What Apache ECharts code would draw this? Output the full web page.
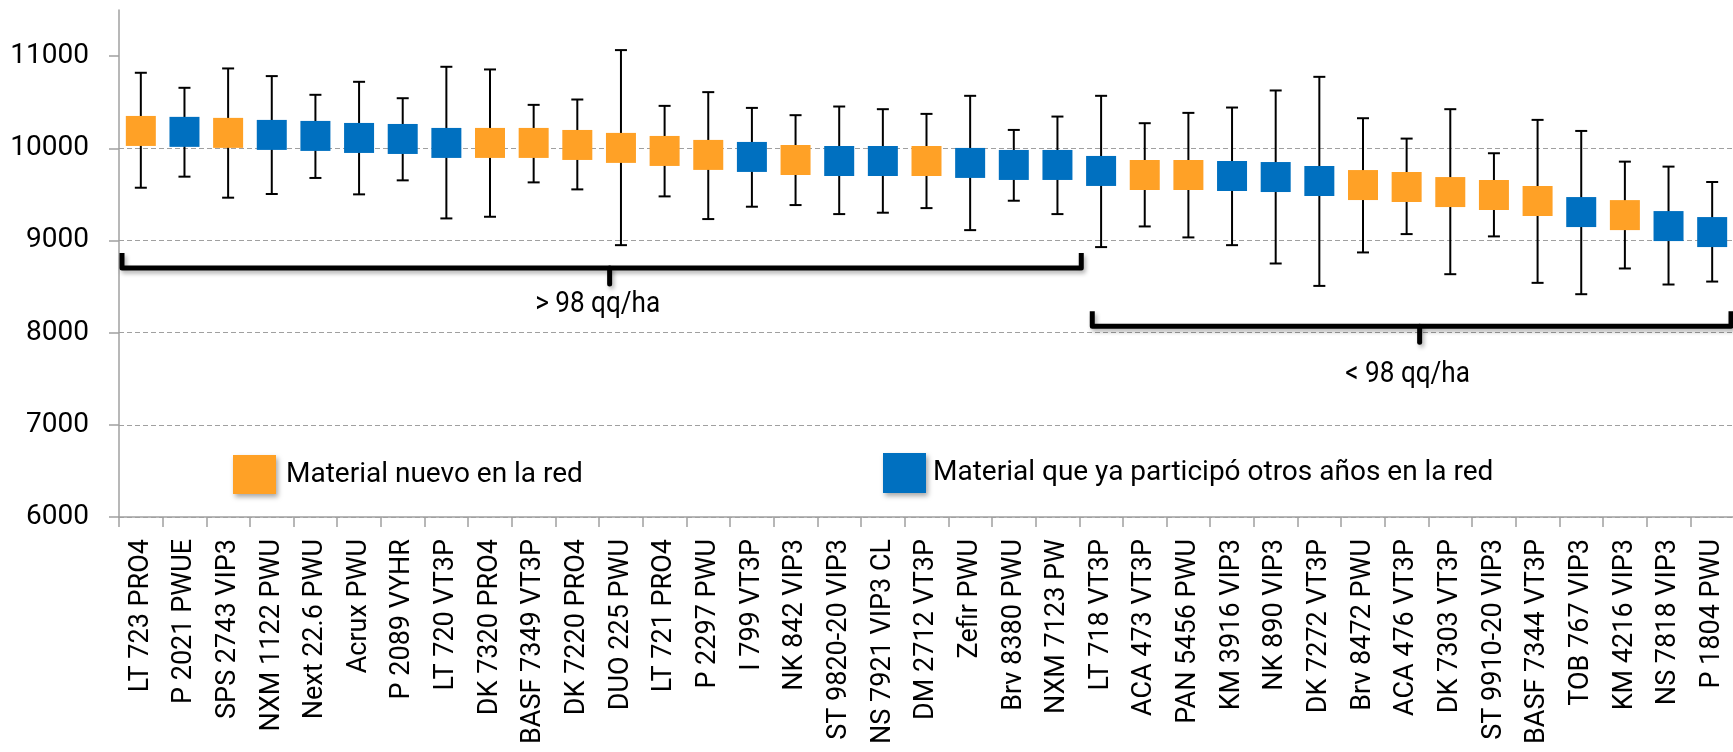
<!DOCTYPE html>
<html><head><meta charset="utf-8">
<script src="https://cdn.jsdelivr.net/npm/echarts@6/dist/echarts.min.js"></script>
<style>html,body{margin:0;padding:0;background:#fff}#c{width:1733px;height:752px}</style>
</head><body><div id="c"></div>
<script>
const categories = ['LT 723 PRO4','P 2021 PWUE','SPS 2743 VIP3','NXM 1122 PWU','Next 22.6 PWU','Acrux PWU','P 2089 VYHR','LT 720 VT3P','DK 7320 PRO4','BASF 7349 VT3P','DK 7220 PRO4','DUO 225 PWU','LT 721 PRO4','P 2297 PWU','I 799 VT3P','NK 842 VIP3','ST 9820-20 VIP3','NS 7921 VIP3 CL','DM 2712 VT3P','Zefir PWU','Brv 8380 PWU','NXM 7123 PW','LT 718 VT3P','ACA 473 VT3P','PAN 5456 PWU','KM 3916 VIP3','NK 890 VIP3','DK 7272 VT3P','Brv 8472 PWU','ACA 476 VT3P','DK 7303 VT3P','ST 9910-20 VIP3','BASF 7344 VT3P','TOB 767 VIP3','KM 4216 VIP3','NS 7818 VIP3','P 1804 PWU'];
const means = [10188,10178,10167,10145,10134,10112,10101,10058,10058,10058,10036,10004,9971,9928,9906,9873,9862,9862,9862,9841,9819,9819,9754,9710,9710,9699,9688,9645,9601,9580,9525,9493,9428,9308,9275,9156,9091];
const highs = [10819,10656,10866,10783,10580,10721,10543,10884,10855,10471,10529,11065,10460,10609,10438,10359,10453,10424,10373,10569,10199,10344,10569,10272,10384,10442,10627,10775,10326,10105,10424,9946,10308,10188,9855,9801,9634];
const lows = [9572,9692,9464,9504,9678,9500,9652,9239,9257,9630,9554,8949,9478,9232,9366,9384,9286,9301,9351,9112,9431,9286,8928,9152,9033,8949,8750,8507,8870,9069,8634,9044,8540,8417,8696,8522,8554];
// 1 = Material nuevo en la red, 0 = ya participó otros años
const isNew = [1,0,1,0,0,0,0,0,1,1,1,1,1,1,0,1,0,0,1,0,0,0,0,1,1,0,0,0,1,1,1,1,1,0,1,0,0];
const yTicks = [6000,7000,8000,9000,10000,11000];
const legendNames = ['Material nuevo en la red','Material que ya participó otros años en la red'];
const bracketLabels = ['> 98 qq/ha','< 98 qq/ha'];
const bracketStart = [0, 22];
const bracketEnd = [21, 36];
const bracketLevels = [8700, 8070];
const bracketLabelLevels = [8310, 7550];

const ORANGE = '#FFA126';
const BLUE = '#0070C0';
const FONT = 'Roboto, sans-serif';

const chart = echarts.init(document.getElementById('c'));

const errData = categories.map((c, i) => [i, lows[i], highs[i]]);
const newData = categories.map((c, i) => isNew[i] ? [c, means[i]] : [c, '-']);
const oldData = categories.map((c, i) => isNew[i] ? [c, '-'] : [c, means[i]]);

const legendItemStyle = {shadowBlur: 5, shadowColor: 'rgba(0,0,0,0.35)', shadowOffsetX: 2, shadowOffsetY: 3};

chart.setOption({
  animation: false,
  backgroundColor: '#fff',
  grid: {left: 119, top: 10, width: 1615, height: 507, containLabel: false, outerBoundsMode: 'none'},
  legend: [
    {data: [{name: legendNames[0], icon: 'rect', itemStyle: legendItemStyle}], left: 228, top: 450, itemWidth: 43, itemHeight: 39,
     textStyle: {fontFamily: FONT, fontSize: 28, color: '#000', padding: [0, 0, 0, 5]}, selectedMode: false},
    {data: [{name: legendNames[1], icon: 'rect', itemStyle: legendItemStyle}], left: 878, top: 448, itemWidth: 43, itemHeight: 40,
     textStyle: {fontFamily: FONT, fontSize: 28, color: '#000', padding: [0, 0, 0, 2]}, selectedMode: false}
  ],
  xAxis: {
    type: 'category', data: categories, boundaryGap: true,
    axisLine: {lineStyle: {color: '#a0a0a0', width: 1.5}},
    axisTick: {show: true, interval: 0, length: 10, lineStyle: {color: '#a0a0a0', width: 1.5}},
    axisLabel: {interval: 0, rotate: 90, margin: 22, fontFamily: FONT, fontSize: 27, color: '#000'},
    splitLine: {show: false}
  },
  yAxis: {
    type: 'value', min: 6000, max: 11500, interval: 1000,
    axisLine: {show: true, lineStyle: {color: '#a0a0a0', width: 1.5}},
    axisTick: {show: true, length: 10, customValues: yTicks, lineStyle: {color: '#a0a0a0', width: 1.5}},
    axisLabel: {customValues: yTicks, margin: 30, fontFamily: FONT, fontSize: 28, color: '#000', formatter: v => String(v)},
    splitLine: {show: true, showMaxLine: false, lineStyle: {color: '#a0a0a0', type: [5, 3], width: 1}}
  },
  series: [
    {
      type: 'custom', name: 'err', z: 1, silent: true,
      encode: {x: 0, y: [1, 2]},
      data: errData,
      renderItem: function (params, api) {
        const lo = api.coord([api.value(0), api.value(1)]);
        const hi = api.coord([api.value(0), api.value(2)]);
        const w = 6;
        const st = {stroke: '#000', lineWidth: 2};
        return {type: 'group', children: [
          {type: 'line', shape: {x1: hi[0], y1: hi[1], x2: lo[0], y2: lo[1]}, style: st},
          {type: 'line', shape: {x1: hi[0] - w, y1: hi[1], x2: hi[0] + w, y2: hi[1]}, style: st},
          {type: 'line', shape: {x1: lo[0] - w, y1: lo[1], x2: lo[0] + w, y2: lo[1]}, style: st}
        ]};
      }
    },
    {type: 'scatter', name: legendNames[0], data: newData, symbol: 'rect', symbolSize: 30, z: 5, itemStyle: {color: ORANGE, opacity: 1}},
    {type: 'scatter', name: legendNames[1], data: oldData, symbol: 'rect', symbolSize: 30, z: 5, itemStyle: {color: BLUE, opacity: 1}}
  ]
});

function drawBrackets() {
  const px = c => chart.convertToPixel({xAxisIndex: 0}, c);
  const band = px(categories[1]) - px(categories[0]);
  const els = [];
  const insetL = [3, 13], insetR = [2, -3];
  const shadow = {shadowBlur: 4, shadowColor: 'rgba(0,0,0,0.3)', shadowOffsetX: 2, shadowOffsetY: 3};
  for (let k = 0; k < bracketLabels.length; k++) {
    const x0 = px(categories[bracketStart[k]]) - band / 2 + insetL[k];
    const x1 = px(categories[bracketEnd[k]]) + band / 2 + insetR[k];
    const y = chart.convertToPixel({yAxisIndex: 0}, bracketLevels[k]);
    const ly = chart.convertToPixel({yAxisIndex: 0}, bracketLabelLevels[k]);
    const xm = (x0 + x1) / 2 + 8;
    const arm = 15, nub = 16;
    els.push({type: 'polyline', z: 10, shape: {points: [[x0, y - arm], [x0, y], [x1, y], [x1, y - arm]]},
      style: Object.assign({fill: null, stroke: '#000', lineWidth: 5, lineCap: 'butt', lineJoin: 'round'}, shadow)});
    els.push({type: 'line', z: 10, shape: {x1: xm, y1: y, x2: xm, y2: y + nub},
      style: Object.assign({stroke: '#000', lineWidth: 5, lineCap: 'round'}, shadow)});
    els.push({type: 'text', z: 10, x: (x0 + x1) / 2 - 4, y: ly, scaleX: 0.87,
      style: {text: bracketLabels[k], fontFamily: FONT, fontSize: 30, fill: '#000', align: 'center', verticalAlign: 'middle'}});
  }
  chart.setOption({graphic: {elements: els}});
}
drawBrackets();
</script>
</body></html>
